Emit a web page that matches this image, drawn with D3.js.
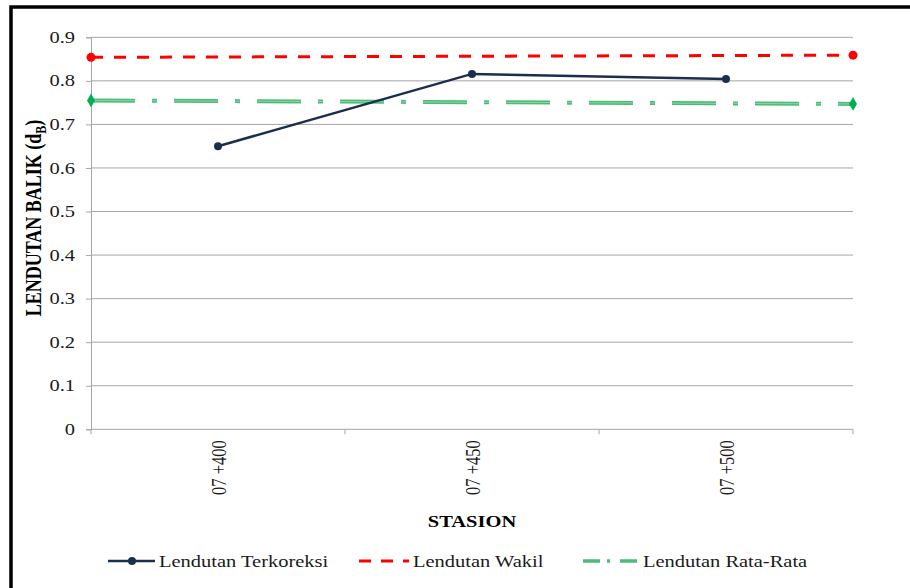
<!DOCTYPE html>
<html>
<head>
<meta charset="utf-8">
<script src="https://cdn.jsdelivr.net/npm/d3@7"></script>
<style>
  html, body { margin: 0; padding: 0; background: #fff; }
  svg { display: block; }
  text { font-family: "Liberation Serif", "Times New Roman", serif; }
</style>
</head>
<body>
<svg id="chart" width="910" height="588"></svg>
<script>
// Stations along the road and the deflection readings
const stations = ["07 +400", "07 +450", "07 +500"];
const lendutanTerkoreksi = [0.650, 0.816, 0.804];
// Wakil and Rata-Rata run across the full plot width (start, end)
const lendutanWakil = [0.854, 0.859];
const lendutanRataRata = [0.755, 0.747];
const yTicks = [0, 0.1, 0.2, 0.3, 0.4, 0.5, 0.6, 0.7, 0.8, 0.9];

const seriesNames = ["Lendutan Terkoreksi", "Lendutan Wakil", "Lendutan Rata-Rata"];

const W = 910, H = 588;
const plot = { left: 91, right: 853, top: 37.3, bottom: 429.3 };
const SX = 1.28; // horizontal text stretch

const svg = d3.select("#chart");

// outer frame
svg.append("rect")
  .attr("x", 11).attr("y", 7)
  .attr("width", W + 20).attr("height", H + 20)
  .attr("fill", "#fff").attr("stroke", "#000").attr("stroke-width", 3.5);

const x = d3.scalePoint().domain(stations).range([plot.left, plot.right]).padding(0.5);
const y = d3.scaleLinear().domain([0, 0.9]).range([plot.bottom, plot.top]);
const step = x.step();
const [x0, x1] = x.range();

// grid lines
svg.append("g").selectAll("line").data(yTicks.filter(d => d > 0)).join("line")
  .attr("x1", x0).attr("x2", x1)
  .attr("y1", d => y(d)).attr("y2", d => y(d))
  .attr("stroke", "#a6a6a6").attr("stroke-width", 1);

// y axis
const yAxis = svg.append("g").attr("transform", `translate(${x0},0)`)
  .call(d3.axisLeft(y).tickValues(yTicks).tickSize(5).tickFormat(d3.format("")));
yAxis.select(".domain").attr("stroke", "#a6a6a6");
yAxis.selectAll(".tick line").attr("stroke", "#a6a6a6");
yAxis.selectAll(".tick text").remove();
svg.append("g").selectAll("text").data(yTicks).join("text")
  .attr("transform", d => `translate(${x0 - 16},${y(d)}) scale(${SX},1)`)
  .attr("text-anchor", "end").attr("dy", "0.35em")
  .attr("font-size", 16).attr("fill", "#1a1a1a")
  .text(d => d3.format("")(d));

// x axis with ticks at category boundaries
const boundaries = d3.range(stations.length + 1).map(i => x0 + i * step);
const xAxis = svg.append("g").attr("transform", `translate(0,${plot.bottom})`);
xAxis.append("line").attr("x1", x0).attr("x2", x1).attr("stroke", "#a6a6a6");
xAxis.selectAll(".bt").data(boundaries).join("line").attr("class", "bt")
  .attr("x1", d => d).attr("x2", d => d).attr("y1", 0).attr("y2", 5)
  .attr("stroke", "#a6a6a6");
svg.append("g").selectAll("text").data(stations).join("text")
  .attr("transform", d => `translate(${x(d) + 1},${plot.bottom + 11}) scale(${SX},1) rotate(-90)`)
  .attr("text-anchor", "end").attr("dy", "0.35em")
  .attr("font-size", 16.5).attr("fill", "#1a1a1a")
  .text(d => d);

// axis titles
svg.append("text")
  .attr("transform", `translate(${(x0 + x1) / 2},527) scale(${SX},1)`)
  .attr("text-anchor", "middle").attr("font-size", 16).attr("font-weight", "bold")
  .attr("fill", "#000").text("STASION");

const yTitle = svg.append("text")
  .attr("transform", `translate(41,218) scale(${SX},1) rotate(-90)`)
  .attr("text-anchor", "middle").attr("font-size", 18).attr("font-weight", "bold")
  .attr("fill", "#000");
yTitle.append("tspan").text("LENDUTAN BALIK (d");
yTitle.append("tspan").attr("font-size", 12).attr("dy", 4).text("B");
yTitle.append("tspan").attr("dy", -4).text(")");

// Rata-Rata (dash-dot green)
const greenPts = [[x0, lendutanRataRata[0]], [x1, lendutanRataRata[1]]];
const line = d3.line().x(d => d[0]).y(d => y(d[1]));
svg.append("path").datum(greenPts).attr("d", line)
  .attr("fill", "none").attr("stroke", "#4dbb78").attr("stroke-width", 4)
  .attr("stroke-dasharray", "44 17 5 17");
svg.append("path").datum(greenPts).attr("d", line)
  .attr("fill", "none").attr("stroke", "#8ad6a6").attr("stroke-width", 1)
  .attr("stroke-dasharray", "44 17 5 17");
svg.append("g").selectAll("path").data(greenPts).join("path")
  .attr("transform", d => `translate(${d[0]},${y(d[1])})`)
  .attr("d", d3.symbol(d3.symbolDiamond, 55))
  .attr("fill", "#00b050");

// Wakil (dashed red)
const redPts = [[x0, lendutanWakil[0]], [x1, lendutanWakil[1]]];
svg.append("path").datum(redPts).attr("d", line)
  .attr("fill", "none").attr("stroke", "#ff0000").attr("stroke-width", 3)
  .attr("stroke-dasharray", "12 11");
svg.append("g").selectAll("circle").data(redPts).join("circle")
  .attr("cx", d => d[0]).attr("cy", d => y(d[1])).attr("r", 4.5)
  .attr("fill", "#ff0000");

// Terkoreksi (solid navy with markers)
const navy = "#1c2e4d";
const navyPts = stations.map((s, i) => [x(s), lendutanTerkoreksi[i]]);
svg.append("path").datum(navyPts).attr("d", line)
  .attr("fill", "none").attr("stroke", navy).attr("stroke-width", 2.5);
svg.append("g").selectAll("circle").data(navyPts).join("circle")
  .attr("cx", d => d[0]).attr("cy", d => y(d[1])).attr("r", 4)
  .attr("fill", navy);

// legend
const ly = 561;
const leg = svg.append("g");
// Terkoreksi
leg.append("line").attr("x1", 108).attr("x2", 155).attr("y1", ly).attr("y2", ly)
  .attr("stroke", navy).attr("stroke-width", 2.5);
leg.append("circle").attr("cx", 132).attr("cy", ly).attr("r", 4).attr("fill", navy);
// Wakil
leg.append("line").attr("x1", 359).attr("x2", 409).attr("y1", ly).attr("y2", ly)
  .attr("stroke", "#ff0000").attr("stroke-width", 3).attr("stroke-dasharray", "12 10");
// Rata-Rata
leg.append("line").attr("x1", 583).attr("x2", 637).attr("y1", ly).attr("y2", ly)
  .attr("stroke", "#4dbb78").attr("stroke-width", 3.5).attr("stroke-dasharray", "17 7 3 10");
const legX = [159, 413, 643];
leg.selectAll("text").data(seriesNames).join("text")
  .attr("transform", (d, i) => `translate(${legX[i]},567) scale(${SX},1)`)
  .attr("font-size", 16).attr("fill", "#1a1a1a")
  .text(d => d);
</script>
</body>
</html>
